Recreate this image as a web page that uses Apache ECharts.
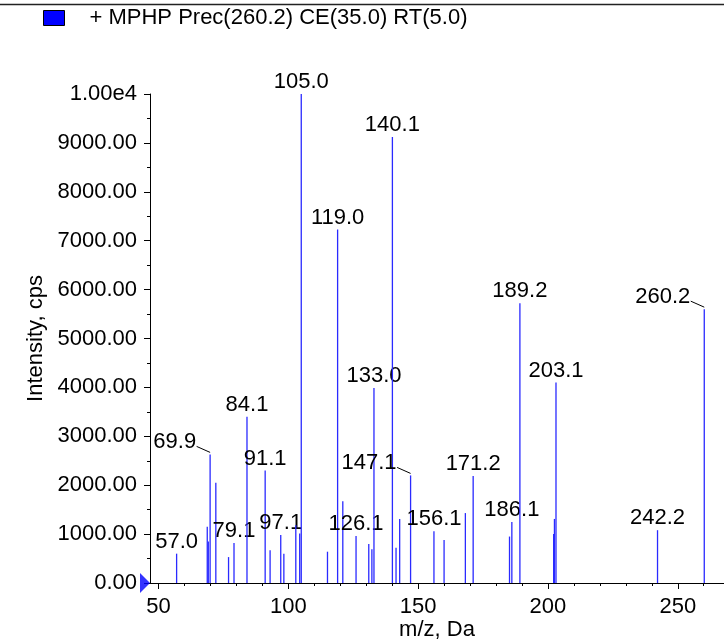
<!DOCTYPE html>
<html><head><meta charset="utf-8">
<script src="https://cdn.jsdelivr.net/npm/echarts@6/dist/echarts.min.js"></script>
<style>html,body{margin:0;padding:0;background:#fff}#c{width:724px;height:641px}</style>
</head><body><div id="c"></div>
<script>
const seriesName = '+ MPHP Prec(260.2) CE(35.0) RT(5.0)';
const mz = [57.0, 68.8, 69.2, 69.9, 72.1, 77.0, 79.1, 84.1, 91.1, 93.0, 97.1, 98.3, 102.9, 104.4, 105.0, 115.1, 119.0, 121.0, 126.1, 131.0, 132.2, 133.0, 140.1, 141.5, 142.9, 147.1, 156.1, 160.0, 168.2, 171.2, 185.2, 186.1, 189.2, 202.2, 202.5, 203.1, 242.2, 260.2];
const intensity = [600, 1150, 850, 2630, 2050, 530, 820, 3400, 2300, 670, 980, 600, 1180, 1010, 10000, 640, 7230, 1670, 960, 800, 690, 3990, 9120, 720, 1310, 2200, 1060, 880, 1430, 2190, 950, 1250, 5720, 1000, 1310, 4100, 1080, 5600];
const peakLabels = ['57.0','69.9','79.1','84.1','91.1','97.1','105.0','119.0','126.1','133.0','140.1','147.1','156.1','171.2','186.1','189.2','203.1','242.2','260.2'];
const calloutLabels = ['69.9','147.1','260.2'];
const xTicks = [50, 100, 150, 200, 250];
const xMinorTicks = [60, 70, 80, 90, 110, 120, 130, 140, 160, 170, 180, 190, 210, 220, 230, 240, 260];
const yTickLabels = ['0.00','1000.00','2000.00','3000.00','4000.00','5000.00','6000.00','7000.00','8000.00','9000.00','1.00e4'];
const xMin = 46.75, xMax = 267.8, yMin = 0, yMax = 10000, yStep = 1000;

const FONT = "'Liberation Sans', Arial, sans-serif";
const FS = 22;
const peakData = mz.map((m, i) => [m, intensity[i]]);

const chart = echarts.init(document.getElementById('c'), null, {renderer: 'canvas'});
const commonAxis = {
  axisLine: {show: true, onZero: false, lineStyle: {color: '#000', width: 1}},
  splitLine: {show: false}
};
chart.setOption({
  animation: false,
  backgroundColor: '#fff',
  textStyle: {fontFamily: FONT},
  legend: {
    data: [{name: seriesName, itemStyle: {color: '#0000ff', borderColor: '#000', borderWidth: 1}}],
    left: 38, top: 2, icon: 'rect', itemWidth: 21, itemHeight: 15,
    selectedMode: false,
    textStyle: {fontSize: FS, fontFamily: FONT, color: '#000', padding: [9, 0, 0, 20]}
  },
  graphic: [{
    type: 'line', shape: {x1: 0, y1: 4.5, x2: 724, y2: 4.5},
    style: {stroke: '#222', lineWidth: 1.5}, silent: true
  }],
  grid: {left: 150, right: 0, top: 94, bottom: 58, containLabel: false, outerBoundsMode: 'none'},
  xAxis: [
    Object.assign({}, commonAxis, {
      type: 'value', min: xMin, max: xMax, position: 'bottom',
      axisTick: {show: true, customValues: xTicks, length: 6, lineStyle: {color: '#000'}},
      axisLabel: {customValues: xTicks, fontSize: FS, fontFamily: FONT, color: '#000', margin: 13},
      name: 'm/z, Da', nameLocation: 'middle', nameGap: 36, nameMoveOverlap: false,
      nameTextStyle: {fontSize: FS, fontFamily: FONT, color: '#000'}
    }),
    {
      type: 'value', min: xMin, max: xMax, position: 'bottom', offset: 0,
      axisLine: {show: false, onZero: false},
      axisTick: {show: true, customValues: xMinorTicks, length: 3, lineStyle: {color: '#000'}},
      axisLabel: {show: false}, splitLine: {show: false}
    }
  ],
  yAxis: Object.assign({}, commonAxis, {
    type: 'value', min: yMin, max: yMax, interval: yStep,
    axisTick: {show: true, length: 6, lineStyle: {color: '#000'}},
    minorTick: {show: true, splitNumber: 2, length: 3, lineStyle: {color: '#000'}},
    axisLabel: {
      fontSize: FS, fontFamily: FONT, color: '#000', margin: 13,
      formatter: v => yTickLabels[Math.round(v / yStep)]
    },
    name: 'Intensity, cps', nameLocation: 'middle', nameRotate: 90, nameGap: 103, nameMoveOverlap: false,
    nameTextStyle: {fontSize: FS, fontFamily: FONT, color: '#000'}
  }),
  series: [
    {
      name: seriesName, type: 'custom', xAxisIndex: 0, yAxisIndex: 0,
      itemStyle: {color: '#0000ff'},
      data: peakData, clip: false,
      renderItem: function (params, api) {
        const x = api.value(0), y = api.value(1);
        const p0 = api.coord([x, 0]);
        const p1 = api.coord([x, y]);
        const px = p0[0];
        const children = [{
          type: 'line',
          shape: {x1: px, y1: p0[1], x2: px, y2: p1[1]},
          style: {stroke: '#2a2aff', lineWidth: 1.3, opacity: 1}
        }];
        const lab = x.toFixed(1);
        if (peakLabels.indexOf(lab) >= 0) {
          if (calloutLabels.indexOf(lab) >= 0) {
            children.push({
              type: 'text', x: px - 14, y: p1[1] - 12,
              style: {text: lab, align: 'right', verticalAlign: 'middle', fontSize: FS, fontFamily: FONT, fill: '#000'}
            });
            children.push({
              type: 'line',
              shape: {x1: px - 13.5, y1: p1[1] - 8, x2: px, y2: p1[1] - 2},
              style: {stroke: '#000', lineWidth: 1}
            });
          } else {
            children.push({
              type: 'text', x: px, y: p1[1] - 1,
              style: {text: lab, align: 'center', verticalAlign: 'bottom', fontSize: FS, fontFamily: FONT, fill: '#000'}
            });
          }
        }
        return {type: 'group', children: children};
      }
    },
    {
      name: 'origin', type: 'scatter', xAxisIndex: 0, yAxisIndex: 0,
      data: [[xMin, yMin]], clip: false, silent: true,
      symbol: 'path://M0,0L10,10L0,20Z', symbolSize: [10, 20], symbolOffset: [-5, 0],
      itemStyle: {color: '#0000ff'}, z: 5
    }
  ]
});
</script></body></html>
